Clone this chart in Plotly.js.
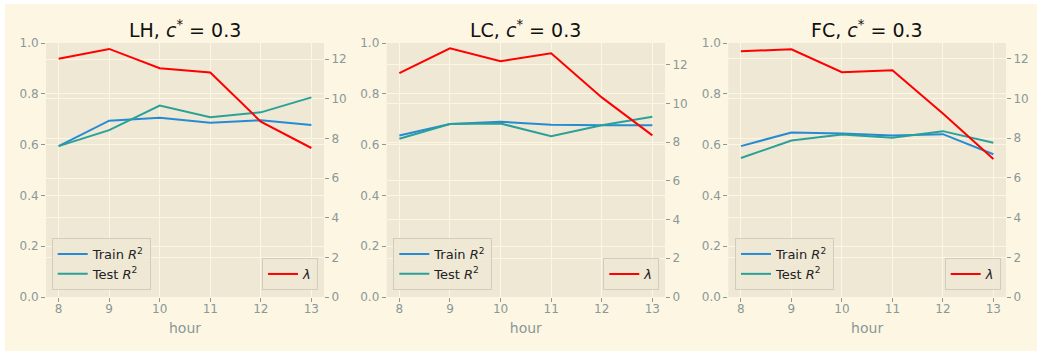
<!DOCTYPE html>
<html>
<head>
<meta charset="utf-8">
<script src="https://cdn.plot.ly/plotly-3.0.1.min.js"></script>
<style>
  html, body { margin: 0; padding: 0; background: #ffffff; width: 1037px; height: 351px; overflow: hidden; }
  #chart { position: absolute; left: 5px; top: 4px; width: 1032px; height: 347px; }
</style>
</head>
<body>
<div id="chart"></div>
<script>
// ---- data ----
const hours = [8, 9, 10, 11, 12, 13];
const panelNames = ["LH", "LC", "FC"];
const cStar = "0.3";

const lhTrain  = [0.594, 0.694, 0.706, 0.686, 0.696, 0.677];
const lhTest   = [0.594, 0.657, 0.754, 0.708, 0.727, 0.786];
const lhLambda = [12.02, 12.52, 11.55, 11.33, 8.85, 7.52];

const lcTrain  = [0.636, 0.681, 0.690, 0.678, 0.676, 0.676];
const lcTest   = [0.623, 0.681, 0.683, 0.633, 0.676, 0.710];
const lcLambda = [11.56, 12.85, 12.18, 12.59, 10.31, 8.35];

const fcTrain  = [0.594, 0.648, 0.644, 0.636, 0.641, 0.562];
const fcTest   = [0.547, 0.616, 0.640, 0.627, 0.653, 0.607];
const fcLambda = [12.39, 12.48, 11.33, 11.43, 9.25, 6.96];

const leftTicks = [0, 0.2, 0.4, 0.6, 0.8, 1.0];
const leftTickText = ["0.0", "0.2", "0.4", "0.6", "0.8", "1.0"];
const rightTicks = [0, 2, 4, 6, 8, 10, 12];

// ---- styling ----
const W = 1032, H = 347;
const C_TRAIN = "#268BD2", C_TEST = "#2AA198", C_LAMBDA = "#FF0000";
const TICK_COLOR = "#8a9898";
const GRID = "#fdf6e3";
const PLOT_BG = "#eee8d5";

const xDomains = [[41 / W, 319 / W], [381.7 / W, 660 / W], [723.3 / W, 1001 / W]];
const yDomain = [1 - 293 / H, 1 - 39 / H];
const rightRanges = [[0, 12.82], [0, 13.12], [0, 12.8]];
const legendLeftX = [46.7 / W, 388.3 / W, 730 / W];
const legendRightX = [313 / W, 654.3 / W, 995.7 / W];
const legendBottomY = 1 - 286 / H;

const series = [
  [lhTrain, lhTest, lhLambda],
  [lcTrain, lcTest, lcLambda],
  [fcTrain, fcTest, fcLambda]
];

const traces = [];
const layout = {
  width: W, height: H,
  margin: {l: 0, r: 0, t: 0, b: 0},
  paper_bgcolor: "#fdf6e3",
  plot_bgcolor: PLOT_BG,
  font: {family: "DejaVu Sans", color: TICK_COLOR, size: 12},
  showlegend: true,
  annotations: []
};

for (let i = 0; i < 3; i++) {
  const xa = i === 0 ? "x" : "x" + (i + 1);
  const yl = "y" + (2 * i + 1 === 1 ? "" : 2 * i + 1);
  const yr = "y" + (2 * i + 2);
  const legA = i === 0 ? "legend" : "legend" + (2 * i + 1);
  const legB = "legend" + (2 * i + 2);
  const [tr, te, la] = series[i];

  traces.push({x: hours, y: tr, xaxis: xa, yaxis: yl, type: "scatter", mode: "lines",
    name: "Train <i>R</i><sup>2</sup>", line: {color: C_TRAIN, width: 2}, legend: legA});
  traces.push({x: hours, y: te, xaxis: xa, yaxis: yl, type: "scatter", mode: "lines",
    name: "Test <i>R</i><sup>2</sup>", line: {color: C_TEST, width: 2}, legend: legA});
  traces.push({x: hours, y: la, xaxis: xa, yaxis: yr, type: "scatter", mode: "lines",
    name: "<i>λ</i>", line: {color: C_LAMBDA, width: 2}, legend: legB});

  const xKey = i === 0 ? "xaxis" : "xaxis" + (i + 1);
  const ylKey = "yaxis" + (2 * i + 1 === 1 ? "" : 2 * i + 1);
  const yrKey = "yaxis" + (2 * i + 2);

  layout[xKey] = {
    domain: xDomains[i], anchor: yl, range: [7.75, 13.25],
    tickvals: hours, ticks: "outside", ticklen: 4, tickcolor: TICK_COLOR,
    ticklabelstandoff: -3,
    showgrid: true, gridcolor: GRID, gridwidth: 1, zeroline: false, showline: false,
    tickfont: {size: 12, color: TICK_COLOR},
    title: {text: "hour", font: {size: 14, color: TICK_COLOR}, standoff: 7}
  };
  layout[ylKey] = {
    domain: yDomain, anchor: xa, range: [0, 1],
    tickvals: leftTicks, ticktext: leftTickText, ticks: "outside", ticklen: 4, tickcolor: TICK_COLOR,
    showgrid: true, gridcolor: GRID, gridwidth: 1, zeroline: false, showline: false,
    tickfont: {size: 12, color: TICK_COLOR}
  };
  layout[yrKey] = {
    overlaying: yl, anchor: xa, side: "right", range: rightRanges[i],
    tickvals: rightTicks, ticks: "outside", ticklen: 4, tickcolor: TICK_COLOR,
    showgrid: true, gridcolor: GRID, gridwidth: 1, zeroline: false, showline: false,
    tickfont: {size: 12, color: TICK_COLOR}
  };

  const legStyle = {
    bgcolor: "rgba(238,232,213,0.85)", bordercolor: "#d0ccc0", borderwidth: 1,
    font: {size: 13, color: "#222222"}, yanchor: "bottom", y: legendBottomY,
    tracegroupgap: 0, itemwidth: 30
  };
  layout[legA] = Object.assign({}, legStyle, {x: legendLeftX[i], xanchor: "left"});
  layout[legB] = Object.assign({}, legStyle, {x: legendRightX[i], xanchor: "right"});

  layout.annotations.push({
    xref: "paper", yref: "paper",
    x: (xDomains[i][0] + xDomains[i][1]) / 2, y: 1 - 25 / H,
    xanchor: "center", yanchor: "middle", showarrow: false,
    text: panelNames[i] + ", <i>c</i><sup>*</sup> = " + cStar,
    font: {size: 19, color: "#111111", family: "DejaVu Sans"}
  });
}

Plotly.newPlot("chart", traces, layout, {displayModeBar: false, staticPlot: true});
</script>
</body>
</html>
